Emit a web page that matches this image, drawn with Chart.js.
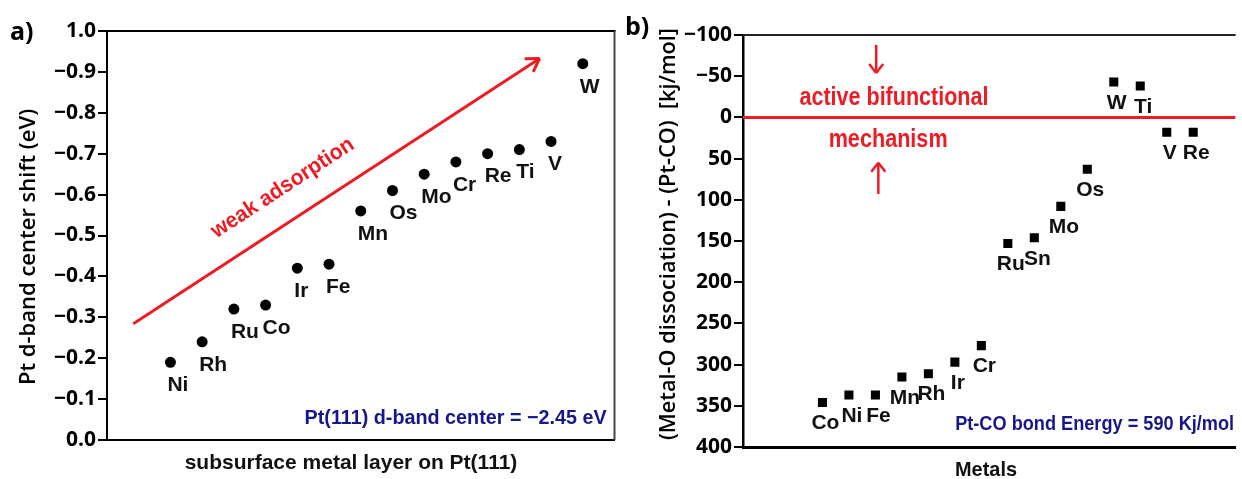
<!DOCTYPE html>
<html>
<head>
<meta charset="utf-8">
<script src="https://cdn.jsdelivr.net/npm/chart.js@4.4.1/dist/chart.umd.min.js"></script>
<style>
html, body { margin:0; padding:0; background:#fff; }
#wrap { position:relative; width:1242px; height:479px; overflow:hidden; }
#chartA { position:absolute; left:0; top:0; }
#chartB { position:absolute; left:620px; top:0; }
</style>
</head>
<body>
<div id="wrap">
<canvas id="chartA" width="620" height="479"></canvas>
<canvas id="chartB" width="622" height="479"></canvas>
</div>
<script>
// a) Pt d-band center shift for a subsurface metal layer on Pt(111)
var metalsA = ['Ni','Rh','Ru','Co','Ir','Fe','Mn','Os','Mo','Cr','Re','Ti','V','W'];
var shiftA = [-0.19,-0.24,-0.32,-0.33,-0.42,-0.43,-0.56,-0.61,-0.65,-0.68,-0.70,-0.71,-0.73,-0.92];
// reversed axis: tick index 0 is the bottom tick
var ticksA = ['0.0','\u22120.1','\u22120.2','\u22120.3','\u22120.4','\u22120.5','\u22120.6','\u22120.7','\u22120.8','\u22120.9','1.0'];
var arrowAX = [-0.17, 12.64];
var arrowAY = [-0.284, -0.933];

// b) (Metal-O dissociation) - (Pt-CO) energies
var metalsB = ['Co','Ni','Fe','Mn','Rh','Ir','Cr','Ru','Sn','Mo','Os','W','Ti','V','Re'];
var energyB = [346,337,337,315,311,297,277,153,146,108,63,-43,-38,18,18];
var ticksB = ['400','350','300','250','200','150','100','50','0','\u221250','\u2212100'];

var RED = '#ed1c24';
var NAVY = '#17178a';
var TICKFONT = {family: '"Open Sans", sans-serif', size: 21, weight: 'bold'};
var LBL = 'bold 21px "Liberation Sans", Arial, sans-serif';

function txt(ctx, s, x, y, font, color, align, maxW, rot, base) {
  ctx.save();
  ctx.translate(x, y);
  if (rot) ctx.rotate(rot);
  ctx.font = font;
  ctx.fillStyle = color;
  ctx.textAlign = align || 'center';
  ctx.textBaseline = base || 'middle';
  if (maxW) ctx.fillText(s, 0, 0, maxW); else ctx.fillText(s, 0, 0);
  ctx.restore();
}

function line(ctx, x1, y1, x2, y2, color, w) {
  ctx.save();
  ctx.strokeStyle = color;
  ctx.lineWidth = w;
  ctx.beginPath();
  ctx.moveTo(x1, y1);
  ctx.lineTo(x2, y2);
  ctx.stroke();
  ctx.restore();
}

var decorA = {
  id: 'decorA',
  afterDraw: function(chart) {
    var ctx = chart.ctx, a = chart.chartArea, xs = chart.scales.x, ys = chart.scales.y;
    line(ctx, a.left, a.top, a.right + 1, a.top, '#000', 2);
    line(ctx, a.right, a.top, a.right, a.bottom, '#444', 2);

    chart.getDatasetMeta(0).data.forEach(function(p, i) {
      txt(ctx, metalsA[i], p.x - 3, p.y + 23, LBL, '#111', 'left');
    });

    // arrow head
    var x1 = xs.getPixelForValue(arrowAX[0]), y1 = ys.getPixelForValue(arrowAY[0]);
    var x2 = xs.getPixelForValue(arrowAX[1]), y2 = ys.getPixelForValue(arrowAY[1]);
    var ang = Math.atan2(y2 - y1, x2 - x1);
    [0.55, -0.55].forEach(function(d) {
      line(ctx, x2, y2, x2 - 15 * Math.cos(ang + d), y2 - 15 * Math.sin(ang + d), RED, 3);
    });
    txt(ctx, 'weak adsorption', xs.getPixelForValue(4.54), ys.getPixelForValue(-0.616),
        'bold 22px "Liberation Sans", Arial, sans-serif', RED, 'center', 166, ang);

    txt(ctx, 'Pt(111) d-band center = \u22122.45 eV', xs.getPixelForValue(14.75), ys.getPixelForValue(-0.052),
        'bold 20px "Liberation Sans", Arial, sans-serif', NAVY, 'right', 302);

    txt(ctx, 'a)', 10, 39.5, 'bold 25px "Open Sans", sans-serif', '#000', 'left', null, 0, 'alphabetic');
    txt(ctx, 'Pt d-band center shift (eV)', 29, 247, '600 22px "Open Sans", sans-serif', '#000', 'center', 289, -Math.PI / 2);
    txt(ctx, 'subsurface metal layer on Pt(111)', 351, 463, 'bold 21px "Liberation Sans", Arial, sans-serif', '#111', 'center', 352);
  }
};

var decorB = {
  id: 'decorB',
  afterDraw: function(chart) {
    var ctx = chart.ctx, a = chart.chartArea, xs = chart.scales.x, ys = chart.scales.y;
    line(ctx, a.left, a.top, a.right, a.top, '#222', 2);

    chart.getDatasetMeta(0).data.forEach(function(p, i) {
      txt(ctx, metalsB[i], p.x + 3, p.y + 21, LBL, '#111', 'center');
    });

    var rf = 'bold 25px "Liberation Sans", Arial, sans-serif';
    txt(ctx, 'active bifunctional', xs.getPixelForValue(3.70), ys.getPixelForValue(-23.5), rf, RED, 'center', 189);
    txt(ctx, 'mechanism', xs.getPixelForValue(3.48), ys.getPixelForValue(27.4), rf, RED, 'center', 119);

    // down arrow
    var dx = xs.getPixelForValue(3.03), dy1 = ys.getPixelForValue(-88), dy2 = ys.getPixelForValue(-54);
    line(ctx, dx, dy1, dx, dy2, RED, 2.5);
    line(ctx, dx - 7, dy2 - 9, dx, dy2, RED, 2.5);
    line(ctx, dx + 7, dy2 - 9, dx, dy2, RED, 2.5);
    // up arrow
    var ux = xs.getPixelForValue(3.11), uy1 = ys.getPixelForValue(93), uy2 = ys.getPixelForValue(55);
    line(ctx, ux, uy1, ux, uy2, RED, 2.5);
    line(ctx, ux - 7, uy2 + 9, ux, uy2, RED, 2.5);
    line(ctx, ux + 7, uy2 + 9, ux, uy2, RED, 2.5);

    txt(ctx, 'Pt-CO bond Energy = 590 Kj/mol', xs.getPixelForValue(6.01), ys.getPixelForValue(373),
        'bold 20px "Liberation Sans", Arial, sans-serif', NAVY, 'left', 279);

    txt(ctx, 'b)', 5, 35, 'bold 25px "Open Sans", sans-serif', '#000', 'left', null, 0, 'alphabetic');
    txt(ctx, '(Metal-O dissociation) - (Pt-CO)  [kj/mol]', 49, 234, '600 22px "Open Sans", sans-serif', '#000', 'center', 412, -Math.PI / 2);
    txt(ctx, 'Metals', 335, 470, 'bold 21px "Liberation Sans", Arial, sans-serif', '#111', 'left', 62);
  }
};

var chartA = new Chart(document.getElementById('chartA'), {
  type: 'scatter',
  data: {
    datasets: [{
      data: shiftA.map(function(v, i) { return {x: i + 1, y: v}; }),
      pointRadius: 5.5,
      pointBackgroundColor: '#000',
      pointBorderWidth: 0
    }, {
      type: 'line',
      data: arrowAX.map(function(v, i) { return {x: v, y: arrowAY[i]}; }),
      borderColor: RED,
      borderWidth: 3,
      pointRadius: 0
    }]
  },
  options: {
    responsive: false,
    animation: false,
    layout: {padding: {top: 31, right: 5, left: 0, bottom: 0}},
    plugins: {legend: {display: false}, tooltip: {enabled: false}},
    scales: {
      x: {
        type: 'linear', min: -1, max: 15,
        ticks: {display: false},
        grid: {display: false},
        border: {display: true, color: '#000', width: 2},
        afterFit: function(s) { s.height = 39; }
      },
      y: {
        min: -1, max: 0, reverse: true,
        ticks: {stepSize: 0.1, color: '#000', font: TICKFONT, padding: 2,
                callback: function(v, i) { return ticksA[i]; }},
        grid: {drawOnChartArea: false, tickLength: 9, color: '#000', lineWidth: 2},
        border: {display: true, color: '#000', width: 2},
        afterFit: function(s) { s.width = 107; }
      }
    }
  },
  plugins: [decorA]
});

var chartB = new Chart(document.getElementById('chartB'), {
  type: 'scatter',
  data: {
    datasets: [{
      data: energyB.map(function(v, i) { return {x: i + 1, y: v}; }),
      pointStyle: 'rect',
      pointRadius: 6.4,
      pointBackgroundColor: '#000',
      pointBorderWidth: 0
    }, {
      type: 'line',
      data: [{x: -2, y: 0}, {x: 16.6, y: 0}],
      borderColor: RED,
      borderWidth: 3,
      pointRadius: 0
    }]
  },
  options: {
    responsive: false,
    animation: false,
    layout: {padding: {top: 35, right: 0, left: 0, bottom: 0}},
    plugins: {legend: {display: false}, tooltip: {enabled: false}},
    scales: {
      x: {
        type: 'linear', min: -2, max: 16.6,
        ticks: {display: false},
        grid: {display: false},
        border: {display: true, color: '#000', width: 3},
        afterFit: function(s) { s.height = 32; }
      },
      y: {
        min: -100, max: 400, reverse: true,
        ticks: {stepSize: 50, color: '#000', font: TICKFONT, padding: 2,
                callback: function(v, i) { return ticksB[i]; }},
        grid: {drawOnChartArea: false, tickLength: 9, color: '#000', lineWidth: 2},
        border: {display: true, color: '#000', width: 2.5},
        afterFit: function(s) { s.width = 123; }
      }
    }
  },
  plugins: [decorB]
});
</script>
</body>
</html>
